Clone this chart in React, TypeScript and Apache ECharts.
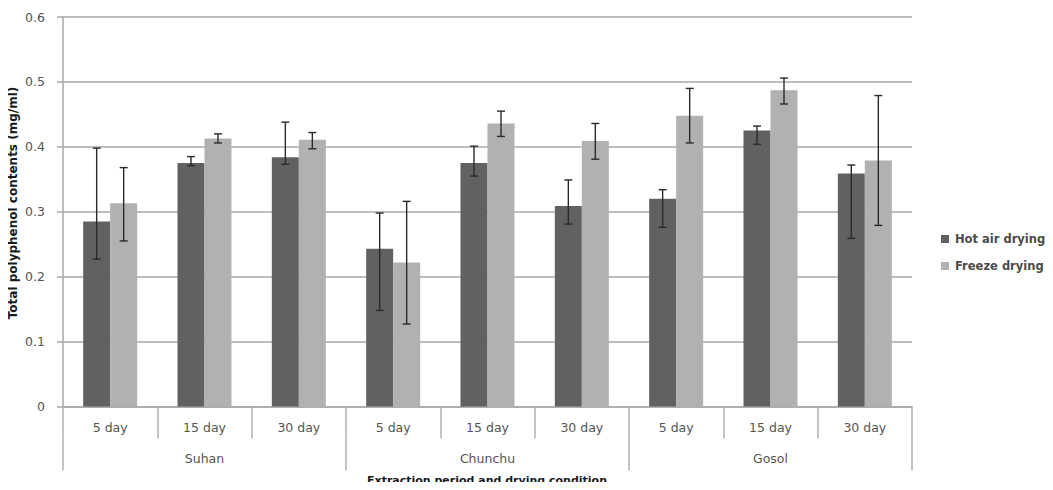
import React, { useEffect, useRef } from "react";
import * as echarts from "echarts";

// Regions (outer axis level) and extraction periods (inner axis level)
const regions = ["Suhan", "Chunchu", "Gosol"];
const periods = ["5 day", "15 day", "30 day"];
const categories = regions.flatMap(() => periods);

const yTicks = [0, 0.1, 0.2, 0.3, 0.4, 0.5, 0.6];

// Hot air drying: mean and error range
const hotAir = [0.285, 0.375, 0.384, 0.243, 0.375, 0.309, 0.32, 0.425, 0.359];
const hotAirLow = [0.227, 0.371, 0.373, 0.148, 0.355, 0.281, 0.276, 0.404, 0.259];
const hotAirHigh = [0.398, 0.385, 0.438, 0.298, 0.401, 0.349, 0.334, 0.432, 0.372];

// Freeze drying: mean and error range
const freeze = [0.313, 0.413, 0.411, 0.222, 0.436, 0.409, 0.448, 0.487, 0.379];
const freezeLow = [0.255, 0.406, 0.397, 0.127, 0.416, 0.381, 0.406, 0.466, 0.279];
const freezeHigh = [0.368, 0.42, 0.422, 0.316, 0.455, 0.436, 0.49, 0.506, 0.479];

const FONT = "DejaVu Sans";
const BAR_W = 27;

function errorSeries(low: number[], high: number[], offset: number) {
  return {
    type: "custom",
    xAxisIndex: 0,
    yAxisIndex: 0,
    z: 10,
    silent: true,
    encode: { x: 0, y: [1, 2] },
    data: low.map((l, i) => [i, l, high[i]]),
    renderItem: (params: any, api: any) => {
      const idx = api.value(0);
      const lo = api.coord([idx, api.value(1)]);
      const hi = api.coord([idx, api.value(2)]);
      const x = lo[0] + offset;
      const cap = 4;
      const style = { stroke: "#2a2a2a", lineWidth: 1.4 };
      return {
        type: "group",
        children: [
          { type: "line", shape: { x1: x, y1: lo[1], x2: x, y2: hi[1] }, style },
          { type: "line", shape: { x1: x - cap, y1: hi[1], x2: x + cap, y2: hi[1] }, style },
          { type: "line", shape: { x1: x - cap, y1: lo[1], x2: x + cap, y2: lo[1] }, style },
        ],
      };
    },
  };
}

export default function App() {
  const ref = useRef<HTMLDivElement>(null);

  useEffect(() => {
    if (!ref.current) return;
    const chart = echarts.init(ref.current, null, { renderer: "svg" });
    chart.setOption({
      animation: false,
      backgroundColor: "#ffffff",
      grid: { left: 63, right: 141, top: 17, bottom: 83.5 },
      legend: {
        orient: "vertical",
        left: 941,
        top: 233,
        padding: 0,
        itemWidth: 8,
        itemHeight: 8,
        itemGap: 15,
        icon: "rect",
        data: ["Hot air drying", "Freeze drying"],
        textStyle: {
          fontFamily: FONT,
          fontSize: 11.5,
          fontWeight: "bold",
          color: "#4a4a4a",
          padding: [0, 0, 0, 1],
        },
      },
      xAxis: [
        {
          type: "category",
          data: categories,
          position: "bottom",
          axisLine: { show: true, lineStyle: { color: "#a8a8a8", width: 1.5 } },
          axisTick: {
            show: true,
            interval: 0,
            length: 32,
            lineStyle: { color: "#b0b0b0", width: 1.5 },
          },
          axisLabel: {
            interval: 0,
            margin: 14,
            fontFamily: FONT,
            fontSize: 12.5,
            color: "#555555",
          },
        },
        {
          type: "category",
          data: regions,
          position: "bottom",
          offset: 32,
          axisLine: { show: false },
          axisTick: {
            show: true,
            interval: 0,
            length: 32,
            lineStyle: { color: "#b0b0b0", width: 1.5 },
          },
          axisLabel: {
            interval: 0,
            margin: 13,
            fontFamily: FONT,
            fontSize: 12.5,
            color: "#555555",
          },
        },
      ],
      yAxis: {
        type: "value",
        min: yTicks[0],
        max: yTicks[yTicks.length - 1],
        interval: 0.1,
        axisLine: { show: true, lineStyle: { color: "#a8a8a8", width: 1.5 } },
        axisTick: { show: true, length: 6, lineStyle: { color: "#a8a8a8", width: 1.5 } },
        splitLine: { show: true, lineStyle: { color: "#a8a8a8", width: 1.5 } },
        axisLabel: {
          margin: 18,
          fontFamily: FONT,
          fontSize: 12.5,
          color: "#555555",
          formatter: (v: number) => (v === 0 ? "0" : v.toFixed(1)),
        },
      },
      graphic: [
        {
          type: "text",
          x: 13,
          y: 203,
          rotation: Math.PI / 2,
          style: {
            text: "Total polyphenol contents (mg/ml)",
            fontFamily: FONT,
            fontSize: 12,
            fontWeight: "bold",
            fill: "#1a1a1a",
            textAlign: "center",
            textVerticalAlign: "middle",
          },
        },
        {
          type: "text",
          x: 487,
          y: 475,
          style: {
            text: "Extraction period and drying condition",
            fontFamily: FONT,
            fontSize: 11,
            fontWeight: "bold",
            fill: "#1a1a1a",
            textAlign: "center",
            textVerticalAlign: "top",
          },
        },
      ],
      series: [
        {
          name: "Hot air drying",
          type: "bar",
          barWidth: BAR_W,
          barGap: "0%",
          itemStyle: { color: "#616161" },
          data: hotAir,
        },
        {
          name: "Freeze drying",
          type: "bar",
          barWidth: BAR_W,
          barGap: "0%",
          itemStyle: { color: "#b1b1b1" },
          data: freeze,
        },
        errorSeries(hotAirLow, hotAirHigh, -BAR_W / 2),
        errorSeries(freezeLow, freezeHigh, BAR_W / 2),
      ],
    });
    return () => chart.dispose();
  }, []);

  return <div ref={ref} style={{ width: 1053, height: 490, margin: -8 }} />;
}
